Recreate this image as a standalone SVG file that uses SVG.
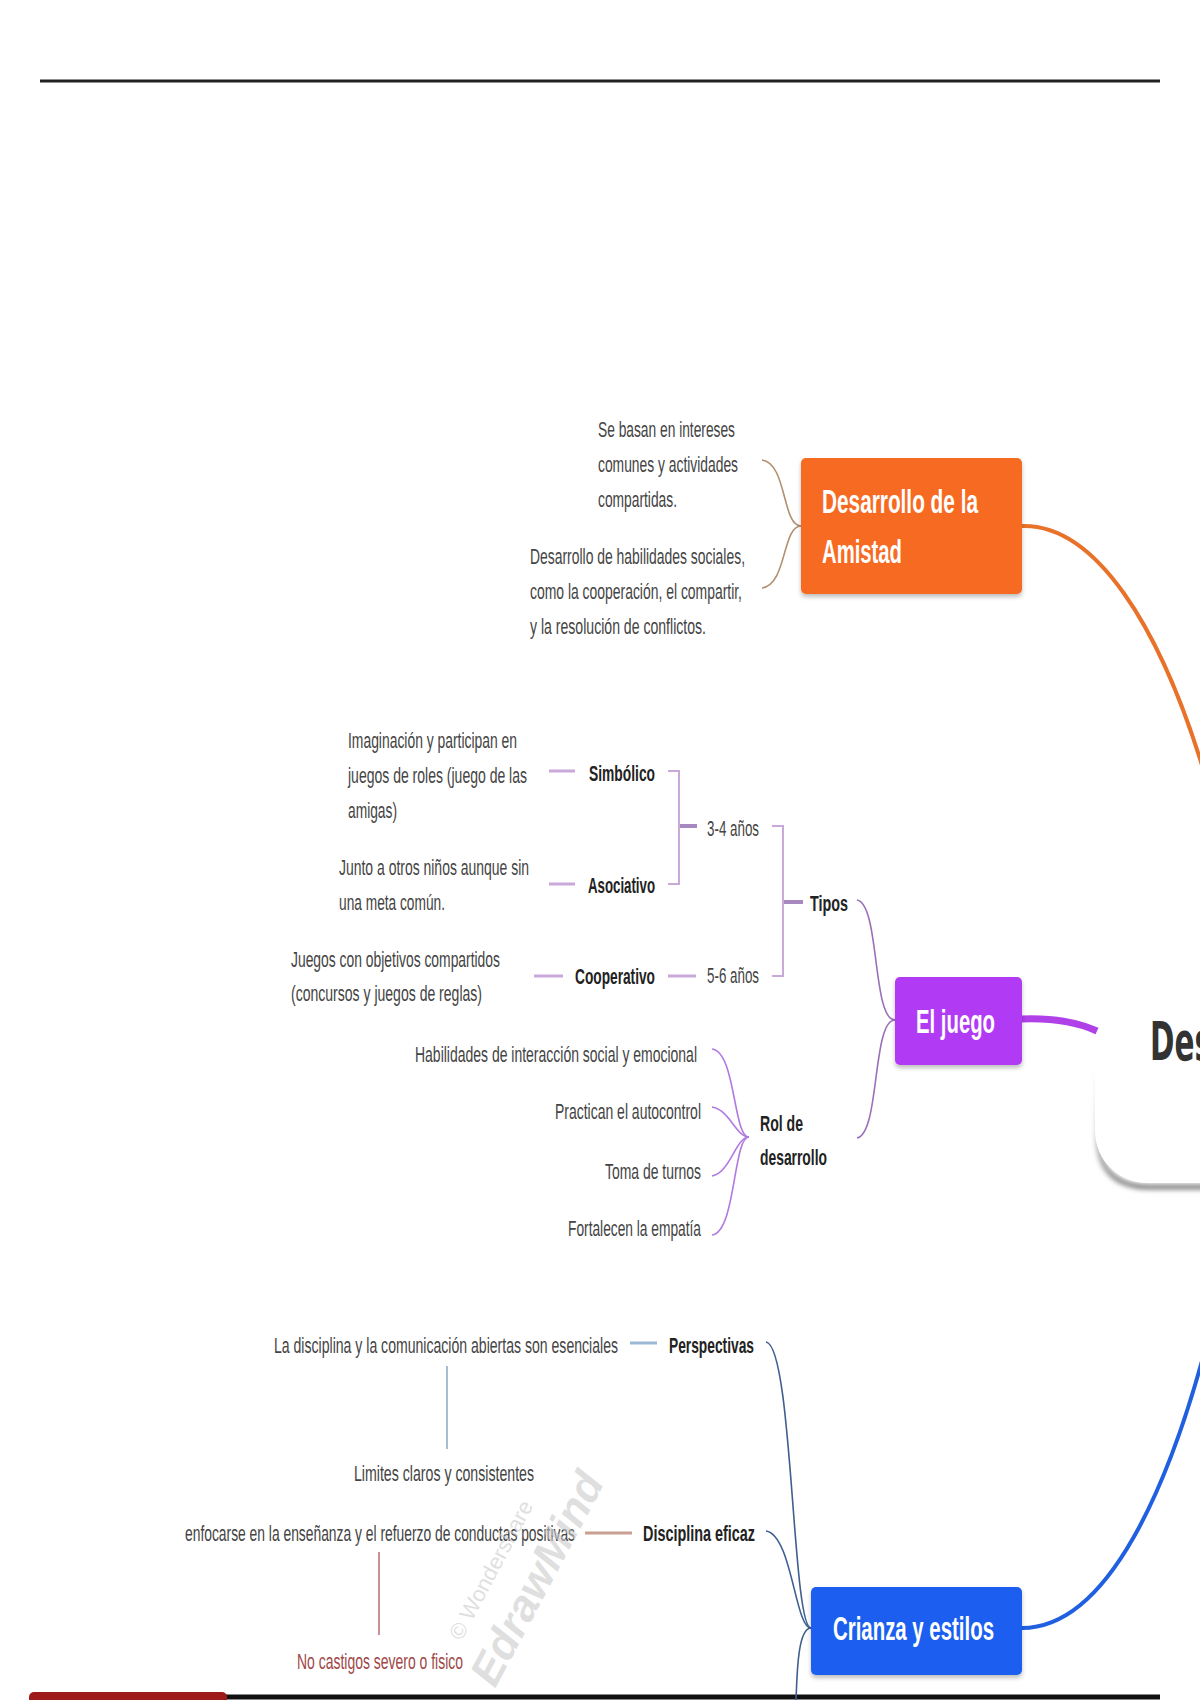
<svg xmlns="http://www.w3.org/2000/svg" width="1200" height="1700" viewBox="0 0 1200 1700">
<defs>
<style>
.leaf{font-family:"Liberation Sans",Arial,sans-serif;font-size:14px;fill:#444;}
.lab{font-family:"Liberation Sans",Arial,sans-serif;font-size:14px;font-weight:bold;fill:#222;}
.box{font-family:"Liberation Sans",Arial,sans-serif;font-size:20.5px;font-weight:bold;fill:#fff;}
.thin{fill:none;stroke-width:1.6;}
.tick{fill:none;stroke-width:3;}
</style>
<filter id="sh" x="-20%" y="-20%" width="140%" height="150%">
<feDropShadow dx="0" dy="3" stdDeviation="2" flood-color="#000" flood-opacity="0.25"/>
</filter>
<filter id="blur" x="-20%" y="-20%" width="140%" height="140%">
<feGaussianBlur stdDeviation="2.5"/>
</filter>
<linearGradient id="fade" gradientUnits="userSpaceOnUse" x1="0" y1="1070" x2="0" y2="1190">
<stop offset="0" stop-color="#888" stop-opacity="0"/>
<stop offset="0.6" stop-color="#888" stop-opacity="0.6"/>
<stop offset="1" stop-color="#777" stop-opacity="1"/>
</linearGradient>
</defs>
<rect width="1200" height="1700" fill="#fff"/>
<path d="M40,81 H1160" stroke="#222" stroke-width="3"/>
<path d="M224,1697 H1160" stroke="#111" stroke-width="5"/>
<rect x="29" y="1692" width="198" height="12" rx="5" fill="#9E1A1A"/>

<g id="central">
<path d="M1098,1070 V1135 Q1098,1187 1150,1187 H1210" fill="none" stroke="url(#fade)" stroke-width="5" filter="url(#blur)"/>
<rect x="1095" y="880" width="220" height="303" rx="52" fill="#fff"/>
<text transform="translate(1150,1060) scale(1,1.83)" font-family="'DejaVu Sans','Liberation Sans',sans-serif" font-size="29.5" font-weight="bold" fill="#333" textLength="62" lengthAdjust="spacingAndGlyphs">Des</text>
</g>

<g id="connectors">
<path d="M1022,526 C1095,524 1160,625 1205,775" fill="none" stroke="#E8722A" stroke-width="4"/>
<path d="M1022,1628 C1110,1628 1170,1480 1205,1350" fill="none" stroke="#2060E0" stroke-width="4"/>
<path d="M1022,1019 C1050,1018 1075,1021 1097,1031" fill="none" stroke="#B040E8" stroke-width="7"/>
<path class="thin" stroke="#B09070" d="M801,526 C782,526 787,463 762,460"/>
<path class="thin" stroke="#B09070" d="M801,526 C782,526 787,585 762,588"/>
<path class="thin" stroke="#9A70B8" d="M895,1020 C872,1020 880,904 857,900"/>
<path class="thin" stroke="#9A70B8" d="M895,1020 C872,1020 880,1134 857,1138"/>
<path d="M783,902 H803" stroke="#A888C0" stroke-width="4"/>
<path d="M772,826 H783 V976 H772" fill="none" stroke="#C9A8DA" stroke-width="2"/>
<path d="M679,826 H697" stroke="#A888C0" stroke-width="4"/>
<path d="M668,771 H679 V884 H668" fill="none" stroke="#C9A8DA" stroke-width="2"/>
<path class="tick" stroke="#C9A8DA" d="M549,771 H575 M549,884 H575 M534,976 H563 M668,976 H696"/>
<path class="thin" stroke="#B07AE0" d="M749,1137 C733,1137 736,1052 712,1049"/>
<path class="thin" stroke="#B07AE0" d="M749,1137 C736,1137 730,1110 712,1107"/>
<path class="thin" stroke="#B07AE0" d="M749,1137 C736,1137 730,1173 712,1176"/>
<path class="thin" stroke="#B07AE0" d="M749,1137 C733,1137 736,1232 712,1235"/>
<path class="thin" stroke="#3F5F90" d="M811,1628 C792,1628 793,1346 766,1342"/>
<path class="thin" stroke="#3F5F90" d="M811,1628 C795,1628 792,1535 766,1531"/>
<path class="thin" stroke="#3F5F90" d="M811,1628 C797,1628 797,1680 796,1700"/>
<path class="tick" stroke="#9BB8D4" d="M630,1343 H657"/>
<path d="M447,1366 V1449" stroke="#A8BCD0" stroke-width="2"/>
<path class="tick" stroke="#C8A090" d="M585,1533 H632"/>
<path d="M379,1552 V1635" stroke="#C89090" stroke-width="2"/>
</g>

<g id="amistad">
<rect x="801" y="458" width="221" height="136" rx="5" fill="#F76B22" filter="url(#sh)"/>
<text class="box" transform="translate(822,513) scale(1,1.66)" textLength="156" lengthAdjust="spacingAndGlyphs">Desarrollo de la</text>
<text class="box" transform="translate(822,563) scale(1,1.66)" textLength="80" lengthAdjust="spacingAndGlyphs">Amistad</text>
</g>
<g id="amistad-1">
<text class="leaf" transform="translate(598,437) scale(1,1.57)" textLength="137" lengthAdjust="spacingAndGlyphs">Se basan en intereses</text>
<text class="leaf" transform="translate(598,472) scale(1,1.57)" textLength="140" lengthAdjust="spacingAndGlyphs">comunes y actividades</text>
<text class="leaf" transform="translate(598,507) scale(1,1.57)" textLength="79" lengthAdjust="spacingAndGlyphs">compartidas.</text>
</g>
<g id="amistad-2">
<text class="leaf" transform="translate(530,564) scale(1,1.57)" textLength="215" lengthAdjust="spacingAndGlyphs">Desarrollo de habilidades sociales,</text>
<text class="leaf" transform="translate(530,599) scale(1,1.57)" textLength="212" lengthAdjust="spacingAndGlyphs">como la cooperación, el compartir,</text>
<text class="leaf" transform="translate(530,634) scale(1,1.57)" textLength="176" lengthAdjust="spacingAndGlyphs">y la resolución de conflictos.</text>
</g>

<g id="juego">
<rect x="895" y="977" width="127" height="88" rx="5" fill="#B13BF5" filter="url(#sh)"/>
<text class="box" transform="translate(916,1033) scale(1,1.66)" textLength="79" lengthAdjust="spacingAndGlyphs">El juego</text>
</g>
<g id="tipos"><text class="lab" transform="translate(810,911) scale(1,1.64)" textLength="38" lengthAdjust="spacingAndGlyphs">Tipos</text></g>
<g id="edad34"><text class="leaf" transform="translate(707,836) scale(1,1.57)" textLength="52" lengthAdjust="spacingAndGlyphs">3-4 años</text></g>
<g id="edad56"><text class="leaf" transform="translate(707,983) scale(1,1.57)" textLength="52" lengthAdjust="spacingAndGlyphs">5-6 años</text></g>
<g id="simbolico"><text class="lab" transform="translate(589,781) scale(1,1.64)" textLength="66" lengthAdjust="spacingAndGlyphs">Simbólico</text></g>
<g id="asociativo"><text class="lab" transform="translate(588,893) scale(1,1.64)" textLength="67" lengthAdjust="spacingAndGlyphs">Asociativo</text></g>
<g id="cooperativo"><text class="lab" transform="translate(575,984) scale(1,1.64)" textLength="80" lengthAdjust="spacingAndGlyphs">Cooperativo</text></g>
<g id="simbolico-1">
<text class="leaf" transform="translate(348,748) scale(1,1.57)" textLength="169" lengthAdjust="spacingAndGlyphs">Imaginación y participan en</text>
<text class="leaf" transform="translate(348,783) scale(1,1.57)" textLength="179" lengthAdjust="spacingAndGlyphs">juegos de roles (juego de las</text>
<text class="leaf" transform="translate(348,818) scale(1,1.57)" textLength="49" lengthAdjust="spacingAndGlyphs">amigas)</text>
</g>
<g id="asociativo-1">
<text class="leaf" transform="translate(339,875) scale(1,1.57)" textLength="190" lengthAdjust="spacingAndGlyphs">Junto a otros niños aunque sin</text>
<text class="leaf" transform="translate(339,910) scale(1,1.57)" textLength="106" lengthAdjust="spacingAndGlyphs">una meta común.</text>
</g>
<g id="cooperativo-1">
<text class="leaf" transform="translate(291,967) scale(1,1.57)" textLength="209" lengthAdjust="spacingAndGlyphs">Juegos con objetivos compartidos</text>
<text class="leaf" transform="translate(291,1001) scale(1,1.57)" textLength="191" lengthAdjust="spacingAndGlyphs">(concursos y juegos de reglas)</text>
</g>
<g id="rol">
<text class="lab" transform="translate(760,1131) scale(1,1.64)" textLength="43" lengthAdjust="spacingAndGlyphs">Rol de</text>
<text class="lab" transform="translate(760,1165) scale(1,1.64)" textLength="67" lengthAdjust="spacingAndGlyphs">desarrollo</text>
</g>
<g id="rol-1"><text class="leaf" transform="translate(415,1062) scale(1,1.57)" textLength="282" lengthAdjust="spacingAndGlyphs">Habilidades de interacción social y emocional</text></g>
<g id="rol-2"><text class="leaf" transform="translate(555,1119) scale(1,1.57)" textLength="146" lengthAdjust="spacingAndGlyphs">Practican el autocontrol</text></g>
<g id="rol-3"><text class="leaf" transform="translate(605,1179) scale(1,1.57)" textLength="96" lengthAdjust="spacingAndGlyphs">Toma de turnos</text></g>
<g id="rol-4"><text class="leaf" transform="translate(568,1236) scale(1,1.57)" textLength="133" lengthAdjust="spacingAndGlyphs">Fortalecen la empatía</text></g>

<g id="crianza">
<rect x="811" y="1587" width="211" height="88" rx="5" fill="#1F5FF0" filter="url(#sh)"/>
<text class="box" transform="translate(833,1640) scale(1,1.66)" textLength="161" lengthAdjust="spacingAndGlyphs">Crianza y estilos</text>
</g>
<g id="perspectivas"><text class="lab" transform="translate(669,1353) scale(1,1.64)" textLength="85" lengthAdjust="spacingAndGlyphs">Perspectivas</text></g>
<g id="disciplina"><text class="lab" transform="translate(643,1541) scale(1,1.64)" textLength="112" lengthAdjust="spacingAndGlyphs">Disciplina eficaz</text></g>
<g id="perspectivas-1"><text class="leaf" transform="translate(274,1353) scale(1,1.57)" textLength="344" lengthAdjust="spacingAndGlyphs">La disciplina y la comunicación abiertas son esenciales</text></g>
<g id="perspectivas-2"><text class="leaf" transform="translate(354,1481) scale(1,1.57)" textLength="180" lengthAdjust="spacingAndGlyphs">Limites claros y consistentes</text></g>
<g id="disciplina-1"><text class="leaf" transform="translate(185,1541) scale(1,1.57)" textLength="390" lengthAdjust="spacingAndGlyphs">enfocarse en la enseñanza y el refuerzo de conductas positivas</text></g>
<g id="disciplina-2"><text class="leaf" transform="translate(297,1669) scale(1,1.57)" textLength="166" lengthAdjust="spacingAndGlyphs" style="fill:#A04848">No castigos severo o fisico</text></g>

<g id="watermark" transform="translate(536,1578) rotate(-62)" font-family="'Liberation Sans',Arial,sans-serif" fill="#CACACA" fill-opacity="0.6" text-anchor="middle">
<text x="-14" y="-36" font-size="22">© Wondershare</text>
<text x="0" y="16" font-size="44" font-weight="bold" font-style="italic">EdrawMind</text>
</g>
</svg>
